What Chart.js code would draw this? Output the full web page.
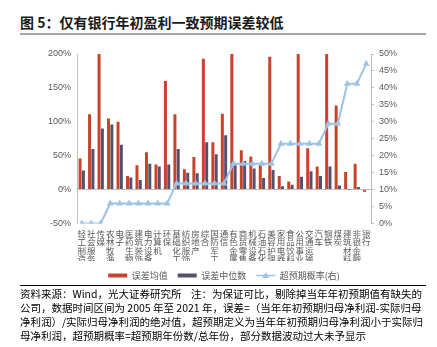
<!DOCTYPE html>
<html>
<head>
<meta charset="utf-8">
<script src="https://cdn.jsdelivr.net/npm/chart.js@4.4.0/dist/chart.umd.min.js"></script>
<style>
  body { margin: 0; width: 437px; height: 347px; background: #fff; position: relative; overflow: hidden;
         font-family: "Noto Sans CJK SC", "Noto Sans", sans-serif; color: #000; }
  #title { position: absolute; left: 20px; top: 14px; font-size: 14px; line-height: 16px; font-weight: bold; color: #1a1a1a; white-space: nowrap; }
  #titleRule { position: absolute; left: 20px; top: 33px; width: 406px; height: 2px; background: #a6a6a6; }
  #box { position: absolute; left: 0; top: 38px; width: 437px; height: 252px; }
  #noteRule { position: absolute; left: 20px; top: 285px; width: 406px; height: 1px; background: #000; }
  #notes { position: absolute; left: 20px; top: 287px; width: 400px; font-size: 10.5px; line-height: 14px; }
  #notes div { white-space: nowrap; }
  #notes .j { text-align: justify; text-align-last: justify; }
</style>
</head>
<body>
<div id="title">图 5：仅有银行年初盈利一致预期误差较低</div>
<div id="titleRule"></div>
<div id="box"><canvas id="myChart"></canvas></div>
<div id="noteRule"></div>
<div id="notes">
  <div class="j">资料来源：Wind，光大证券研究所&nbsp;&nbsp;&nbsp;&nbsp;注：为保证可比，剔除掉当年年初预期值有缺失的</div>
  <div class="j">公司，数据时间区间为 2005 年至 2021 年，误差=（当年年初预期归母净利润-实际归母</div>
  <div class="j">净利润）/实际归母净利润的绝对值，超预期定义为当年年初预期归母净利润小于实际归</div>
  <div>母净利润，超预期概率=超预期年份数/总年份，部分数据波动过大未予显示</div>
</div>
<script>
const categories = ['轻工制造', '社会服务', '传媒', '农林牧渔', '电子', '医药生物', '建筑装饰', '电力设备',
    '计算机', '环保', '基础化工', '纺织服饰', '房地产', '综合', '国防军工', '通信', '有色金属', '商贸零售',
    '机械设备', '石油石化', '美容护理', '家用电器', '食品饮料', '公用事业', '交通运输', '汽车', '钢铁', '煤炭',
    '建筑材料', '非银金融', '银行'];
const meanError = [46, 111, 200, 105, 100, 20, 36, 55, 37, 160, 111, 30, 48, 193, 70, 112, 200, 58,
    49, 38, 196, 20, 12, 200, 61, 34, 200, 124, 26, 38, -3];
const medianError = [28, 60, 90, 96, 66, 18, 14, 38, 34, 37, 60, 25, 24, 70, 52, 80, 37, 42,
    31, 17, 29, 5, 7, 19, 27, 20, 34, 6, 0.3, 4, -0.5];
const beatRate = [0, 0, 0, 5.9, 5.9, 5.9, 5.9, 5.9, 5.9, 5.9, 11.8, 11.8, 11.8, 11.8, 11.8, 11.8,
    17.6, 17.6, 17.6, 17.6, 17.6, 23.5, 23.5, 23.5, 23.5, 23.5, 29.4, 29.4, 41.2, 41.2, 47.1];
const leftRange = [-50, 200, 50];
const rightRange = [0, 50, 5];

const redColor = '#C8432B';
const blueColor = '#55506F';
const lineColor = '#9DC3E6';
const tickColor = '#595959';

// draw a line with a triangle for the third legend entry
const legendLineMarker = {
    id: 'legendLineMarker',
    afterDraw(chart) {
        const lg = chart.legend;
        const i = lg.legendItems.findIndex(it => it.datasetIndex === 2);
        if (i < 0) return;
        const box = lg.legendHitBoxes[i];
        const w = lg.options.labels.boxWidth;
        const cy = box.top + box.height / 2;
        const cx = box.left + w / 2;
        const ctx = chart.ctx;
        ctx.save();
        ctx.strokeStyle = lineColor;
        ctx.lineWidth = 1.5;
        ctx.beginPath();
        ctx.moveTo(box.left, cy);
        ctx.lineTo(box.left + w, cy);
        ctx.stroke();
        ctx.fillStyle = lineColor;
        ctx.beginPath();
        ctx.moveTo(cx, cy - 3.5);
        ctx.lineTo(cx + 3.5, cy + 2.5);
        ctx.lineTo(cx - 3.5, cy + 2.5);
        ctx.closePath();
        ctx.fill();
        ctx.restore();
    }
};

const ctx = document.getElementById('myChart').getContext('2d');
const myChart = new Chart(ctx, {
    type: 'bar',
    data: {
        labels: categories.map(c => c.split('')),
        datasets: [{
            label: '误差均值',
            data: meanError,
            backgroundColor: redColor,
            borderWidth: 0,
            yAxisID: 'y',
            order: 1,
        }, {
            label: '误差中位数',
            data: medianError,
            backgroundColor: blueColor,
            borderWidth: 0,
            yAxisID: 'y',
            order: 1,
        }, {
            type: 'line',
            label: '超预期概率(右)',
            data: beatRate,
            borderColor: lineColor,
            backgroundColor: lineColor,
            borderWidth: 2,
            pointStyle: 'triangle',
            pointRadius: 4,
            pointBorderWidth: 0,
            yAxisID: 'y1',
            order: 0,
        }]
    },
    options: {
        responsive: true,
        maintainAspectRatio: false,
        animation: false,
        layout: { padding: { left: 0, right: 20, top: 16, bottom: 0 } },
        datasets: {
            bar: { categoryPercentage: 0.7, barPercentage: 0.9 }
        },
        plugins: {
            tooltip: { enabled: false },
            legend: {
                position: 'bottom',
                fullSize: false,
                labels: {
                    boxWidth: 19,
                    boxHeight: 4,
                    padding: 10,
                    color: tickColor,
                    font: { size: 9, family: '"Noto Sans CJK SC"' },
                    generateLabels: chart => {
                        const items = Chart.defaults.plugins.legend.labels.generateLabels(chart);
                        items.forEach(it => {
                            if (it.datasetIndex === 2) {
                                it.fillStyle = 'rgba(0,0,0,0)';
                                it.strokeStyle = 'rgba(0,0,0,0)';
                                it.lineWidth = 0;
                            }
                        });
                        return items.sort((a, b) => a.datasetIndex - b.datasetIndex);
                    }
                }
            }
        },
        scales: {
            x: {
                grid: { display: false, drawTicks: false },
                border: { display: false },
                ticks: {
                    autoSkip: false,
                    maxRotation: 0,
                    padding: 6,
                    color: tickColor,
                    font: { size: 8.5, family: '"Noto Sans CJK SC"', lineHeight: 1.0 }
                },
                afterFit: scale => { scale.height = 37.5; }
            },
            y: {
                position: 'left',
                min: leftRange[0],
                max: leftRange[1],
                ticks: {
                    stepSize: leftRange[2],
                    color: tickColor,
                    padding: 6,
                    font: { size: 9, family: '"Liberation Sans"' },
                    callback: v => v + '%'
                },
                grid: {
                    drawTicks: false,
                    color: c => c.tick && c.tick.value === 0 ? '#bfbfbf' : 'rgba(0,0,0,0)'
                },
                border: { color: '#bfbfbf' },
                afterFit: scale => { scale.width = 77; }
            },
            y1: {
                position: 'right',
                min: rightRange[0],
                max: rightRange[1],
                ticks: {
                    stepSize: rightRange[2],
                    color: tickColor,
                    padding: 5,
                    font: { size: 9, family: '"Liberation Sans"' },
                    callback: v => v + '%'
                },
                grid: { drawOnChartArea: false, tickLength: 3, color: '#bfbfbf' },
                border: { color: '#bfbfbf' },
                afterFit: scale => { scale.width = 46; }
            }
        }
    },
    plugins: [legendLineMarker]
});
</script>
</body>
</html>
